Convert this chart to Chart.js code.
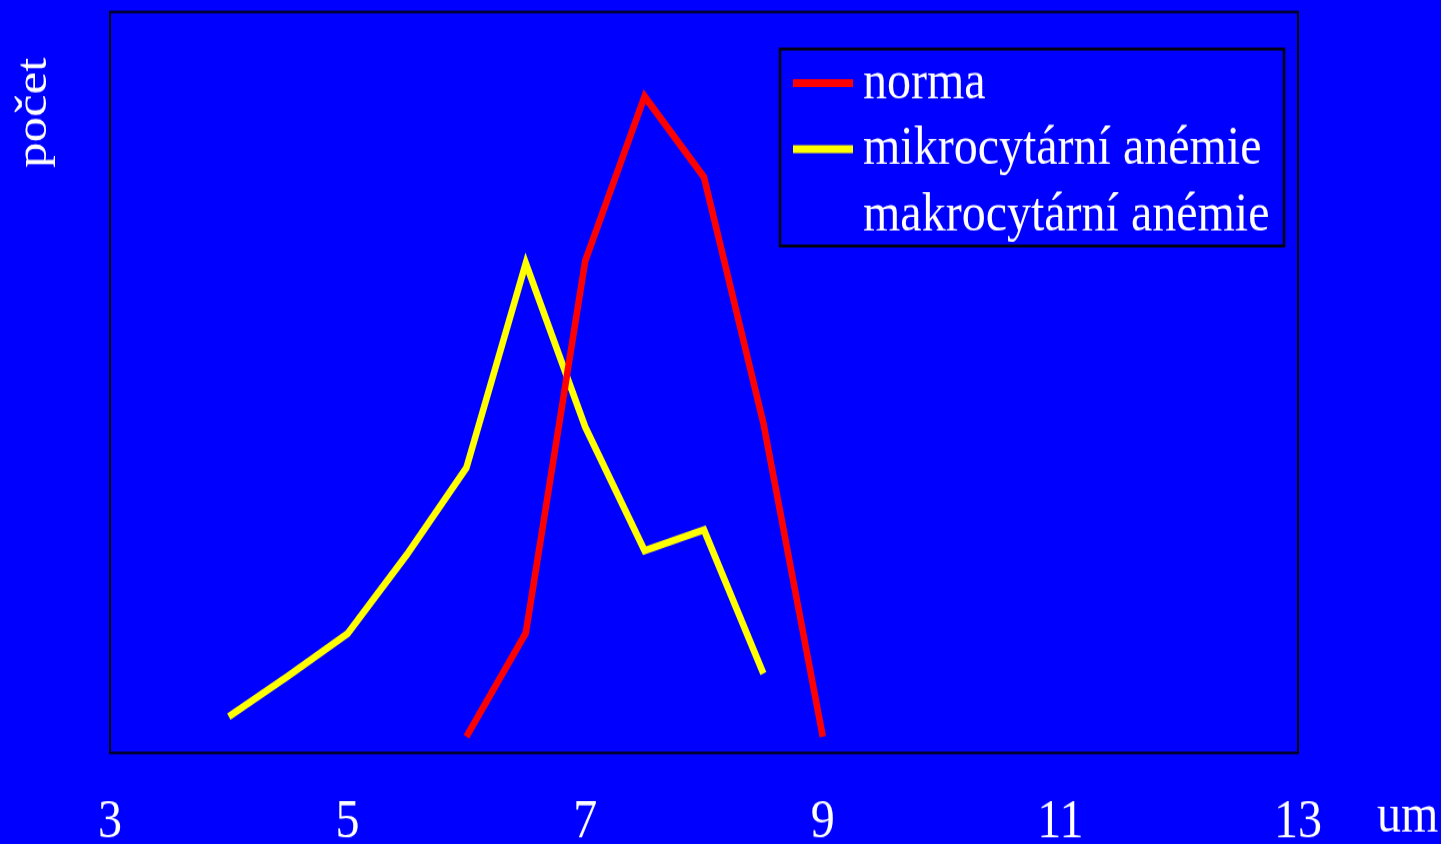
<!DOCTYPE html>
<html>
<head>
<meta charset="utf-8">
<script src="https://cdn.jsdelivr.net/npm/chart.js@4.4.0/dist/chart.umd.min.js"></script>
<style>
  html, body { margin: 0; padding: 0; background: #0000ff; overflow: hidden; }
</style>
</head>
<body>
<!-- the original slide is stretched vertically, so the canvas is drawn shorter and scaled up -->
<canvas id="chart" width="1441" height="747" style="width:1441px;height:844px"></canvas>
<script>
// Data (x = cell size in um, y = relative count)
const xTicks = [3, 5, 7, 9, 11, 13];
const normaX = [6, 6.5, 7, 7.5, 8, 8.5, 9];
const normaY = [2.2, 16.2, 66.4, 88.6, 77.7, 44.5, 2.2];
const mikroX = [4, 4.5, 5, 5.5, 6, 6.5, 7, 7.5, 8, 8.5];
const mikroY = [4.9, 10.4, 16.1, 26.8, 38.5, 66.1, 44.0, 27.3, 30.1, 10.7];
const makroX = [];
const makroY = [];
const seriesNames = ['norma', 'mikrocytární anémie', 'makrocytární anémie'];
const seriesColors = ['#ff0000', '#ffff00', '#0000ff'];

const FONT = "'Liberation Serif', 'Times New Roman', serif";

function toPoints(xs, ys) {
    return xs.map((x, i) => ({ x: x, y: ys[i] }));
}

// Background, plot frame, legend box and axis titles
const slidePlugin = {
    id: 'slide',
    beforeDraw(chart) {
        const ctx = chart.ctx;
        ctx.save();
        ctx.fillStyle = '#0000ff';
        ctx.fillRect(0, 0, chart.width, chart.height);
        ctx.restore();
    },
    afterDraw(chart) {
        const ctx = chart.ctx;
        const area = chart.chartArea;
        ctx.save();

        // plot frame
        ctx.strokeStyle = '#000000';
        ctx.lineWidth = 2;
        ctx.strokeRect(area.left, area.top, area.right - area.left, area.bottom - area.top);

        // legend
        ctx.lineWidth = 2.5;
        ctx.strokeRect(780, 43.4, 504, 174.3);
        ctx.font = '48px ' + FONT;
        ctx.textBaseline = 'alphabetic';
        ctx.textAlign = 'left';
        chart.data.datasets.forEach((ds, i) => {
            const y = 73.5 + i * 58.4;
            ctx.strokeStyle = ds.borderColor;
            ctx.lineWidth = 7;
            ctx.lineCap = 'butt';
            ctx.beginPath();
            ctx.moveTo(793, y);
            ctx.lineTo(853, y);
            ctx.stroke();
            ctx.fillStyle = '#ffffff';
            ctx.fillText(ds.label, 863, y + 13.2);
        });

        // axis titles
        ctx.fillStyle = '#ffffff';
        ctx.fillText('um', 1377, 736.3);
        ctx.font = '45px ' + FONT;
        ctx.translate(46, 51);
        ctx.rotate(-Math.PI / 2);
        ctx.textAlign = 'right';
        ctx.fillText('počet', 0, 0);

        ctx.restore();
    }
};

const datasets = [
    toPoints(normaX, normaY),
    toPoints(mikroX, mikroY),
    toPoints(makroX, makroY)
].map((pts, i) => ({
    label: seriesNames[i],
    data: pts,
    borderColor: seriesColors[i],
    backgroundColor: seriesColors[i],
    borderWidth: 6.5,
    borderCapStyle: 'butt',
    borderJoinStyle: 'miter',
    pointRadius: 0,
    tension: 0,
    fill: false
}));

new Chart(document.getElementById('chart'), {
    type: 'line',
    data: { datasets: datasets },
    options: {
        responsive: false,
        animation: false,
        devicePixelRatio: 1,
        layout: { padding: { left: 110, right: 143, top: 10.6, bottom: 0 } },
        plugins: {
            legend: { display: false },
            tooltip: { enabled: false }
        },
        scales: {
            x: {
                type: 'linear',
                min: xTicks[0],
                max: xTicks[xTicks.length - 1],
                afterBuildTicks: (scale) => {
                    scale.ticks = xTicks.map(v => ({ value: v }));
                },
                afterFit: (scale) => {
                    scale.height = 80.6;
                },
                grid: { display: false, drawTicks: false },
                border: { display: false },
                ticks: {
                    color: '#ffffff',
                    padding: 33,
                    font: { family: FONT, size: 48 }
                }
            },
            y: {
                display: false,
                min: 0,
                max: 100
            }
        }
    },
    plugins: [slidePlugin]
});
</script>
</body>
</html>
